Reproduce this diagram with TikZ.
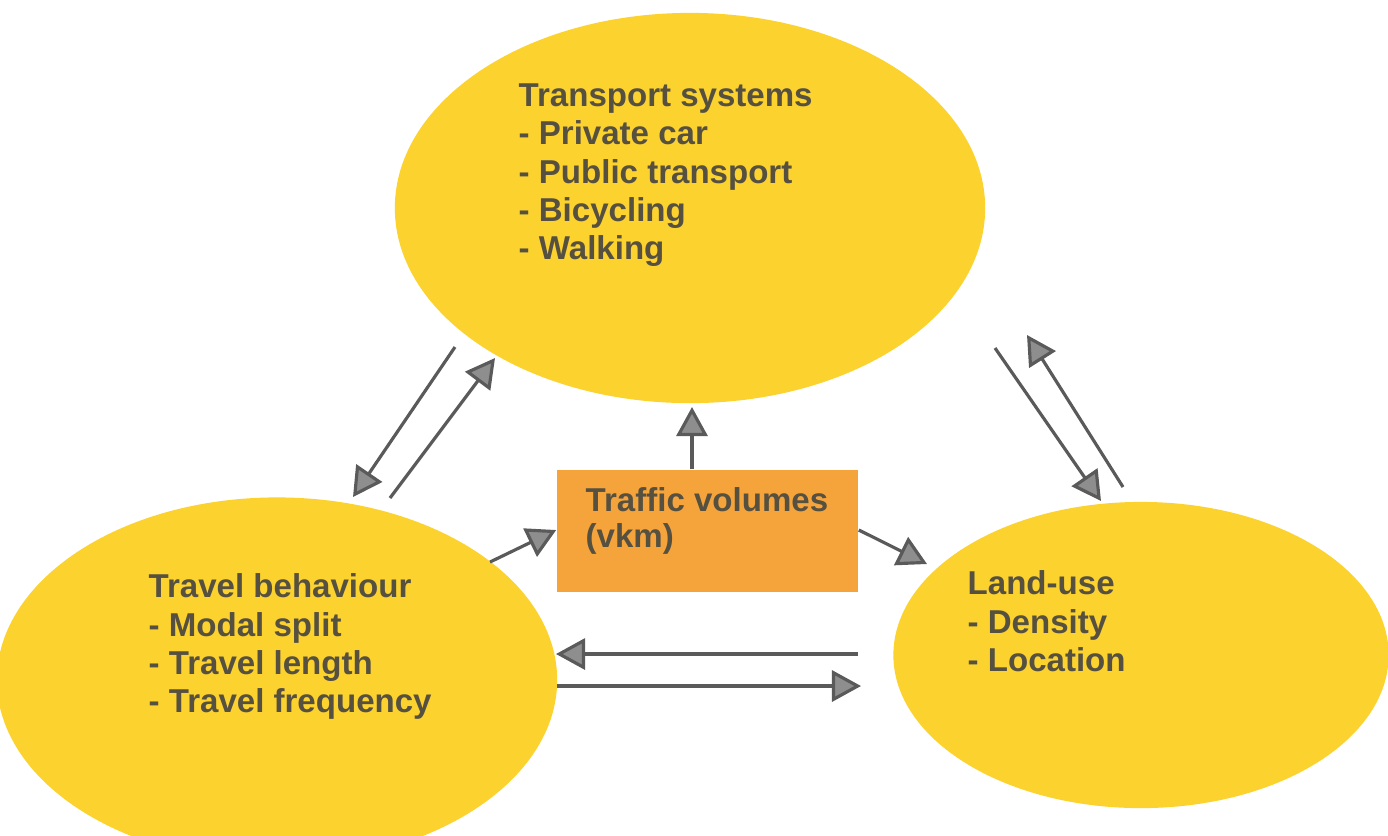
\documentclass[tikz,border=0pt]{standalone}
\usepackage{fontspec}
\setmainfont{Liberation Sans}
\usetikzlibrary{shapes.geometric,arrows.meta}
\definecolor{ylw}{HTML}{FCD22E}
\definecolor{org}{HTML}{F5A43C}
\definecolor{txt}{HTML}{565040}
\definecolor{arr}{HTML}{5A5A5A}
\definecolor{arrfill}{HTML}{8E8E8E}
\tikzset{
  blob/.style={ellipse,fill=ylw,draw=none,inner sep=0pt},
  lbl/.style={anchor=north west,align=left,text=txt,font=\fontsize{9.4}{10.9}\selectfont\bfseries,inner sep=0pt},
  conn/.style={draw=arr,line width=0.9pt,-{Triangle[length=0.29cm,width=0.31cm,fill=arrfill]}}
}
\begin{document}
\begin{tikzpicture}[x=0.01cm,y=-0.01cm]
\useasboundingbox (0,0) rectangle (1388,835);
\clip (0,0) rectangle (1388,835);
\fill[white] (0,0) rectangle (1388,835);
% ellipses
\node[blob,minimum width=5.9cm,minimum height=3.9cm] (ts) at (690,208) {};
\node[blob,minimum width=5.6cm,minimum height=3.65cm] (tb) at (277,680) {};
\node[blob,minimum width=4.95cm,minimum height=3.06cm] (lu) at (1141,655) {};
% box
\node[fill=org,minimum width=3.01cm,minimum height=1.22cm,inner sep=0pt] (tv) at (707.5,531) {};
% texts
\node[lbl] (tstext) at (518,83) {Transport systems\\- Private car\\- Public transport\\- Bicycling\\- Walking};
\node[lbl] (tbtext) at (148,573) {Travel behaviour\\- Modal split\\- Travel length\\- Travel frequency};
\node[lbl] (lutext) at (967,570) {Land-use\\- Density\\- Location};
\node[lbl,font=\fontsize{9.4}{10.1}\selectfont\bfseries] (tvtext) at (585,487) {Traffic volumes\\(vkm)};
% arrow endpoints
\coordinate (a1s) at (455,347); \coordinate (a1e) at (353,497);
\coordinate (a2s) at (390,498); \coordinate (a2e) at (495,358);
\coordinate (b1s) at (995,348); \coordinate (b1e) at (1101,501);
\coordinate (b2s) at (1123,487); \coordinate (b2e) at (1027,335);
\coordinate (cs) at (tv.north-|692,0); \coordinate (ce) at (692,407);
\coordinate (ds) at (490,562); \coordinate (de) at (tv.west|-0,530);
\coordinate (es) at (tv.east|-0,530); \coordinate (ee) at (927,564);
\coordinate (fs) at (858,654); \coordinate (fe) at (556,654);
\coordinate (gs) at (557,686); \coordinate (ge) at (861,686);
\draw[conn] (a1s) -- (a1e);
\draw[conn] (a2s) -- (a2e);
\draw[conn] (b1s) -- (b1e);
\draw[conn] (b2s) -- (b2e);
\draw[conn] (cs) -- (ce);
\draw[conn] (ds) -- (de);
\draw[conn] (es) -- (ee);
\draw[conn] (fs) -- (fe);
\draw[conn] (gs) -- (ge);
\end{tikzpicture}
\end{document}
